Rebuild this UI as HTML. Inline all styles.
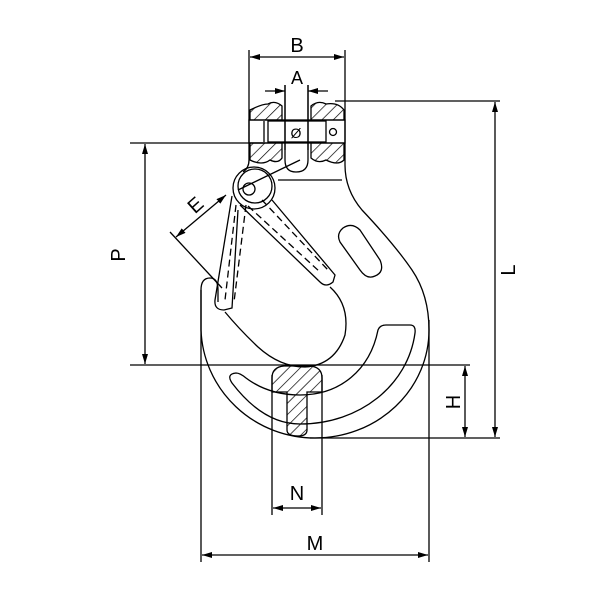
<!DOCTYPE html>
<html><head><style>body{margin:0;background:#fff}svg{display:block}</style></head>
<body>
<svg width="600" height="600" viewBox="0 0 600 600" xmlns="http://www.w3.org/2000/svg" font-family="Liberation Sans, sans-serif">
<defs>
<pattern id="h" patternUnits="userSpaceOnUse" width="8" height="8" patternTransform="rotate(45)">
<line x1="0" y1="0" x2="0" y2="8" stroke="#000" stroke-width="1.4"/></pattern>
<marker id="ar" markerWidth="10" markerHeight="6" refX="10" refY="3" orient="auto-start-reverse" markerUnits="userSpaceOnUse"><path d="M0,0 L10,3 L0,6" fill="#000"/></marker>
</defs>
<g fill="none" stroke="#000" stroke-width="1.3">
<line x1="249" y1="50" x2="249" y2="140"/><line x1="345" y1="50" x2="345" y2="165"/>
<line x1="250" y1="57" x2="344" y2="57" marker-start="url(#ar)" marker-end="url(#ar)"/>
<line x1="285" y1="85" x2="285" y2="150"/><line x1="308" y1="85" x2="308" y2="150"/>
<line x1="265" y1="91" x2="285" y2="91" marker-end="url(#ar)"/><line x1="328" y1="91" x2="308" y2="91" marker-end="url(#ar)"/>
<path d="M250,120 L250,110 Q262,104 268,104 Q275,100 282,106 L282,120 Z" fill="url(#h)"/>
<path d="M311,120 L311,106 Q318,100 326,104 Q338,102 344,110 L344,120 Z" fill="url(#h)"/>
<path d="M250,143 L250,160 Q262,166 270,160 Q278,164 282,158 L282,143 Z" fill="url(#h)"/>
<path d="M311,143 L311,158 Q318,164 326,160 Q338,166 344,160 L344,143 Z" fill="url(#h)"/>
<rect x="249" y="120" width="96" height="23"/>
<rect x="268" y="121" width="58" height="21"/>
<line x1="264" y1="121" x2="264" y2="142"/>
<circle cx="333" cy="132" r="3.5"/>
<path d="M285,85 L285,160 Q285,172 296,172 Q308,172 308,160 L308,85"/>
<text x="296" y="138" font-size="14" text-anchor="middle" fill="#000" stroke="none">Ø</text>
<line x1="335" y1="101" x2="500" y2="101"/>
<line x1="495" y1="102" x2="495" y2="437" marker-start="url(#ar)" marker-end="url(#ar)"/>
<line x1="310" y1="438" x2="500" y2="438"/>
<line x1="130" y1="143" x2="265" y2="143"/>
<line x1="145" y1="144" x2="145" y2="364" marker-start="url(#ar)" marker-end="url(#ar)"/>
<line x1="130" y1="365" x2="470" y2="365"/>
<line x1="278" y1="180" x2="342" y2="180"/>
<line x1="465" y1="366" x2="465" y2="437" marker-start="url(#ar)" marker-end="url(#ar)"/>
<line x1="272" y1="375" x2="272" y2="515"/><line x1="322" y1="375" x2="322" y2="515"/>
<line x1="273" y1="508" x2="321" y2="508" marker-start="url(#ar)" marker-end="url(#ar)"/>
<line x1="201" y1="290" x2="201" y2="562"/><line x1="429" y1="320" x2="429" y2="562"/>
<line x1="202" y1="555" x2="428" y2="555" marker-start="url(#ar)" marker-end="url(#ar)"/>
<path d="M345,165 Q345,190 362,210 Q395,245 412,270 Q429,295 429,330 A114,108 0 0 1 315,438 A114,112 0 0 1 201,330 L201,290 Q201,278 210,278 Q218,278 218,290 L218,302"/>
<path d="M249,140 L249,160 Q249,168 243,172"/>
<path d="M225,312 Q240,330 258,347 Q280,367 305,367 Q335,365 345,335 Q350,305 330,287"/>
<path d="M343,228 Q352,222 360,230 L380,260 Q385,272 375,276 Q367,280 360,270 L340,242 Q336,234 343,228 Z"/>
<path d="M378,330 Q380,325 386,325 L410,325 Q416,325 415,333 C408,385 360,424 300,424 C270,424 248,404 232,383 Q226,374 236,373 Q240,373 246,378 C262,390 280,395 300,395 C340,395 370,370 378,330 Z"/>
<path d="M272,378 Q272,367 284,366 L310,366 Q322,367 322,378 L322,392 L307,392 L307,430 Q307,436 298,436 Q287,436 287,430 L287,392 L272,392 Z" fill="url(#h)"/>
<circle cx="254" cy="188" r="21"/>
<circle cx="255" cy="186" r="17"/>
<circle cx="249" cy="189" r="6"/>
<path d="M232,196 L215,300 Q214,310 224,310 L232,308 L238,210"/>
<path d="M240,205 L320,282 Q326,288 333,282 L335,275 L272,200"/>
<path d="M236,205 L225,300 M246,205 L234,302 M248,206 L320,272 M262,200 L328,270" stroke-dasharray="7,4"/>
<path d="M238,190 L300,160"/>
<line x1="176" y1="237" x2="226" y2="195" marker-start="url(#ar)" marker-end="url(#ar)"/>
<line x1="170" y1="232" x2="222" y2="288"/>
</g>
<g fill="#000" font-size="20">
<text x="297" y="52" text-anchor="middle">B</text>
<text x="297" y="84" text-anchor="middle" font-size="18">A</text>
<text x="297" y="500" text-anchor="middle">N</text>
<text x="315" y="550" text-anchor="middle">M</text>
<text transform="translate(125,255) rotate(-90)" text-anchor="middle">P</text>
<text transform="translate(515,270) rotate(-90)" text-anchor="middle">L</text>
<text transform="translate(460,402) rotate(-90)" text-anchor="middle">H</text>
<text transform="translate(200,210) rotate(-42)" text-anchor="middle">E</text>
</g>
</svg>
</body></html>
